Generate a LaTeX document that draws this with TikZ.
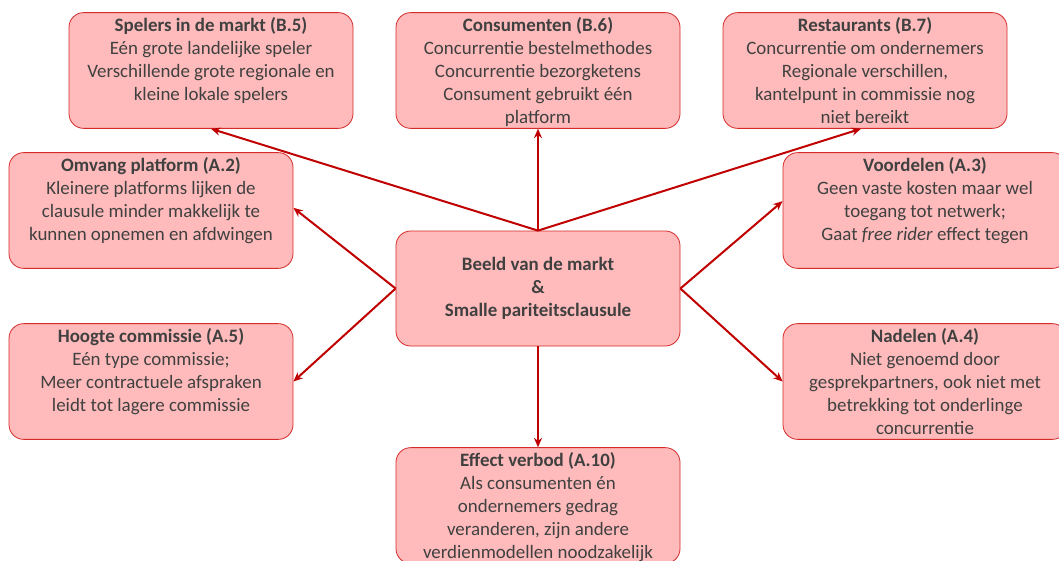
\documentclass[tikz,border=0pt]{standalone}
\usepackage{fontspec}
\usepackage{xcolor}
\setmainfont{Carlito}
\usetikzlibrary{arrows.meta}

\definecolor{boxfill}{HTML}{FFBBBB}
\definecolor{boxline}{HTML}{D42A2A}
\definecolor{arrowred}{HTML}{C00000}
\definecolor{textgrey}{HTML}{404040}

\newcommand{\boxbody}[2]{\parbox[c][80pt][t]{210pt}{\centering\textbf{#1}\\#2}}

\tikzset{
  infobox/.style={draw=boxline, line width=0.6pt, fill=boxfill, rounded corners=11pt,
    minimum width=213pt, minimum height=86.25pt, inner xsep=1.5pt, inner ysep=3.4pt,
    text=textgrey, font=\fontsize{14.2}{17.25}\selectfont},
  link/.style={draw=arrowred, line width=1.5pt, -{Stealth[length=7pt,width=6pt]}}
}

\begin{document}
\begin{tikzpicture}[x=0.75pt, y=-0.75pt]
        \useasboundingbox (0,0) rectangle (1059,560);
        \clip (0,0) rectangle (1059,560);

        % boxes
        \node[infobox] (b5) at (211, 70.5) {\boxbody{Spelers in de markt (B.5)}{Eén grote landelijke speler\\Verschillende grote regionale en\\kleine lokale spelers}};
        \node[infobox] (b6) at (538, 70.5) {\boxbody{Consumenten (B.6)}{Concurrentie bestelmethodes\\Concurrentie bezorgketens\\Consument gebruikt één\\platform}};
        \node[infobox] (b7) at (865, 70.5) {\boxbody{Restaurants (B.7)}{Concurrentie om ondernemers\\Regionale verschillen,\\kantelpunt in commissie nog\\niet bereikt}};
        \node[infobox] (a2) at (151, 210.5) {\boxbody{Omvang platform (A.2)}{Kleinere platforms lijken de\\clausule minder makkelijk te\\kunnen opnemen en afdwingen}};
        \node[infobox] (a3) at (925, 210.5) {\boxbody{Voordelen (A.3)}{Geen vaste kosten maar wel\\toegang tot netwerk;\\Gaat \textit{free rider} effect tegen}};
        \node[infobox, font=\fontsize{14.2}{17.25}\selectfont\bfseries, align=center] (mid) at (538, 288.5) {Beeld van de markt\\\&\\Smalle pariteitsclausule};
        \node[infobox] (a5) at (151, 381.5) {\boxbody{Hoogte commissie (A.5)}{Eén type commissie;\\Meer contractuele afspraken\\leidt tot lagere commissie}};
        \node[infobox] (a4) at (925, 381.5) {\boxbody{Nadelen (A.4)}{Niet genoemd door\\gesprekpartners, ook niet met\\betrekking tot onderlinge\\concurrentie}};
        \node[infobox] (a10) at (538, 505.5) {\boxbody{Effect verbod (A.10)}{Als consumenten én\\ondernemers gedrag\\veranderen, zijn andere\\verdienmodellen noodzakelijk}};

        % arrows
        \draw[link] (mid.north) -- (b5.south);
        \draw[link] (mid.north) -- (b6.south);
        \draw[link] (mid.north) -- ([xshift=-3pt]b7.south);
        \draw[link] (mid.west) -- ([yshift=2pt]a2.east);
        \draw[link] (mid.east) -- ([yshift=7pt]a3.west);
        \draw[link] (mid.west) -- (a5.east);
        \draw[link] (mid.east) -- (a4.west);
        \draw[link] (mid.south) -- (a10.north);
    \end{tikzpicture}
\end{document}
